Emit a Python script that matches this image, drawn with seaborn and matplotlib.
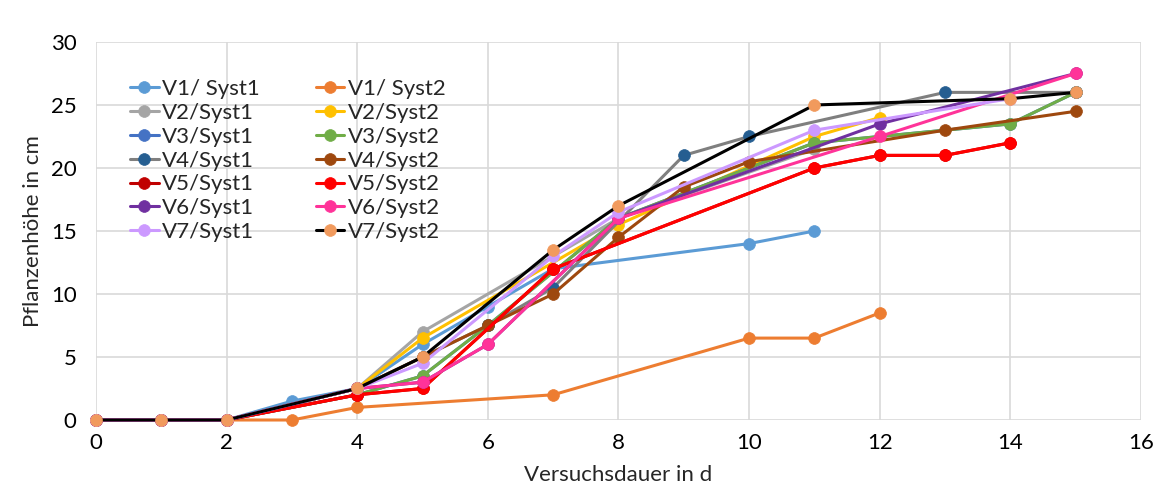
import numpy as np
import pandas as pd
import matplotlib
matplotlib.use("Agg")
import matplotlib.pyplot as plt
import seaborn as sns

nan = np.nan

# Versuchstage
days = [0, 1, 2, 3, 4, 5, 6, 7, 8, 9, 10, 11, 12, 13, 14, 15]

# Pflanzenhöhe (cm) je Variante und System; nan = kein Messwert
v1_syst1 = [0, 0, 0, 1.5, 2.5, 6, 9, 12, nan, nan, 14, 15, nan, nan, nan, nan]
v1_syst2 = [0, 0, 0, 0, 1, nan, nan, 2, nan, nan, 6.5, 6.5, 8.5, nan, nan, nan]
v2_syst1 = [0, 0, 0, nan, 2.5, 7, nan, nan, 16, nan, nan, 21.5, nan, nan, nan, nan]
v2_syst2 = [0, 0, 0, nan, 2.5, 6.5, nan, nan, 15.5, nan, nan, 22.5, 24, nan, nan, nan]
v3_syst1 = [0, 0, 0, nan, 2, 3.5, 7.5, nan, 16, nan, nan, 22, nan, nan, 23.5, 26]
v3_syst2 = [0, 0, 0, nan, 2, 3.5, 7.5, nan, 16, nan, nan, 22, nan, nan, 23.5, 26]
v4_syst1 = [0, 0, 0, nan, 2.5, 5, 7.5, 10.5, nan, 21, 22.5, nan, nan, 26, nan, 26]
v4_syst2 = [0, 0, 0, nan, 2.5, 5, 7.5, 10, 14.5, 18.5, 20.5, nan, nan, 23, nan, 24.5]
v5_syst1 = [0, 0, 0, nan, 2, 2.5, nan, 12, nan, nan, nan, 20, 21, 21, 22, nan]
v5_syst2 = [0, 0, 0, nan, 2, 2.5, nan, 12, nan, nan, nan, 20, 21, 21, 22, nan]
v6_syst1 = [0, 0, 0, nan, 2.5, 3, 6, nan, 16, nan, nan, nan, 23.5, nan, nan, 27.5]
v6_syst2 = [0, 0, 0, nan, 2.5, 3, 6, nan, 16, nan, nan, nan, 22.5, nan, nan, 27.5]
v7_syst1 = [0, 0, 0, nan, 2.5, 4.5, nan, 13, 16.5, nan, nan, 23, nan, nan, 25.5, nan]
v7_syst2 = [0, 0, 0, nan, 2.5, 5, nan, 13.5, 17, nan, nan, 25, nan, nan, 25.5, 26]

series_names = ["V1/ Syst1", "V1/ Syst2", "V2/Syst1", "V2/Syst2", "V3/Syst1", "V3/Syst2",
                "V4/Syst1", "V4/Syst2", "V5/Syst1", "V5/Syst2", "V6/Syst1", "V6/Syst2",
                "V7/Syst1", "V7/Syst2"]
series_values = [v1_syst1, v1_syst2, v2_syst1, v2_syst2, v3_syst1, v3_syst2,
                 v4_syst1, v4_syst2, v5_syst1, v5_syst2, v6_syst1, v6_syst2,
                 v7_syst1, v7_syst2]

# (Linienfarbe, Markerfarbe)
styles = {
    "V1/ Syst1": ("#5B9BD5", "#5B9BD5"),
    "V1/ Syst2": ("#ED7D31", "#ED7D31"),
    "V2/Syst1": ("#A5A5A5", "#A5A5A5"),
    "V2/Syst2": ("#FFC000", "#FFC000"),
    "V3/Syst1": ("#4472C4", "#4472C4"),
    "V3/Syst2": ("#70AD47", "#70AD47"),
    "V4/Syst1": ("#7F7F7F", "#255E91"),
    "V4/Syst2": ("#9E480E", "#9E480E"),
    "V5/Syst1": ("#C00000", "#C00000"),
    "V5/Syst2": ("#FF0000", "#FF0000"),
    "V6/Syst1": ("#7030A0", "#7030A0"),
    "V6/Syst2": ("#FF3399", "#FF3399"),
    "V7/Syst1": ("#CC99FF", "#CC99FF"),
    "V7/Syst2": ("#000000", "#F19A5D"),
}

frames = []
for name, vals in zip(series_names, series_values):
    frames.append(pd.DataFrame({"Tag": days, "Höhe": vals, "Serie": name}))
data = pd.concat(frames, ignore_index=True).dropna()

sns.set_theme(style="whitegrid")
plt.rcParams["font.family"] = ["Lato", "DejaVu Sans"]

fig = plt.figure(figsize=(11.64, 4.91), dpi=100)
ax = fig.add_axes([0.0825, 0.1446, 0.8977, 0.7699])

for i, name in enumerate(series_names):
    line_c, marker_c = styles[name]
    sub = data[data["Serie"] == name]
    sns.lineplot(data=sub, x="Tag", y="Höhe", ax=ax, color=line_c, linewidth=2.2,
                 marker="o", markersize=8.5, markerfacecolor=marker_c,
                 markeredgecolor=marker_c, markeredgewidth=0.5,
                 errorbar=None, label=name, zorder=3 + i, clip_on=False)

ax.set_xlim(0, 16)
ax.set_ylim(0, 30)
ax.set_xticks(np.arange(0, 17, 2))
ax.set_yticks(np.arange(0, 31, 5))
ax.grid(True, color="#D9D9D9", linewidth=1.2)
for s in ax.spines.values():
    s.set_visible(False)
ax.tick_params(axis="x", length=0, labelsize=16, colors="black", pad=9)
ax.tick_params(axis="y", length=0, labelsize=16, colors="black", pad=14)
ax.set_xlabel("Versuchsdauer in d", fontsize=16, labelpad=9)
ax.set_ylabel("Pflanzenhöhe in cm", fontsize=16, labelpad=6)

handles, labels = ax.get_legend_handles_labels()
order = [labels.index(n) for n in series_names[0::2] + series_names[1::2]]
ax.legend([handles[k] for k in order], [labels[k] for k in order], ncol=2,
          loc="upper left", bbox_to_anchor=(0.024, 0.925), frameon=False,
          fontsize=16, handlelength=1.3, handletextpad=0.15, labelspacing=0.17,
          columnspacing=2.5, borderaxespad=0)

fig.savefig("out.png", dpi=100, facecolor="white")
